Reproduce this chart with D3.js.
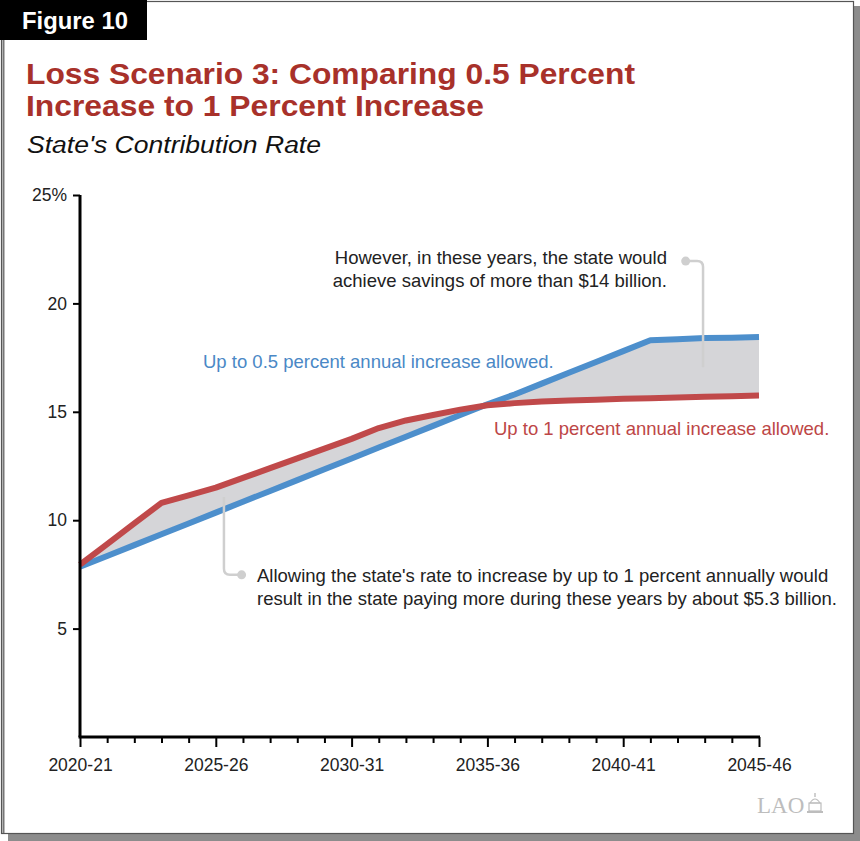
<!DOCTYPE html>
<html>
<head>
<meta charset="utf-8">
<script src="https://cdn.jsdelivr.net/npm/d3@7"></script>
<style>
  html, body { margin: 0; padding: 0; background: #fff; }
  svg { display: block; font-family: "Liberation Sans", Arial, Helvetica, sans-serif; }
</style>
</head>
<body>
<svg id="chart" width="860" height="841"></svg>
<script>
// ---- Data ----
const years = d3.range(2020, 2046); // 2020-21 ... 2045-46 (start year)
const halfPercent = [7.85, 8.35, 8.85, 9.35, 9.85, 10.35, 10.85, 11.35, 11.85, 12.35,
                     12.85, 13.35, 13.85, 14.35, 14.85, 15.35, 15.8, 16.3, 16.8, 17.3,
                     17.8, 18.3, 18.35, 18.4, 18.42, 18.45];
const onePercent = [7.95, 8.9, 9.85, 10.8, 11.15, 11.5, 11.95, 12.4, 12.85, 13.3,
                    13.75, 14.25, 14.6, 14.85, 15.1, 15.3, 15.4, 15.47, 15.52, 15.56,
                    15.6, 15.63, 15.66, 15.69, 15.72, 15.75];
const yTicks = [5, 10, 15, 20, 25];
const yTickLabels = ["5", "10", "15", "20", "25%"];
const xMajorTicks = [2020, 2025, 2030, 2035, 2040, 2045];
const xTickLabels = ["2020-21", "2025-26", "2030-31", "2035-36", "2040-41", "2045-46"];

const data = years.map((yr, i) => ({ yr, a: halfPercent[i], b: onePercent[i] }));

const svg = d3.select("#chart");
const W = 860, H = 841;

// ---- Frame ----
svg.append("rect").attr("x", 8).attr("y", 6).attr("width", W - 8).attr("height", H - 6).attr("fill", "#8c8c8c");
svg.append("rect").attr("x", 1.5).attr("y", 1.5).attr("width", 852).attr("height", 832)
  .attr("fill", "#fff").attr("stroke", "#555").attr("stroke-width", 1.2);
svg.append("line").attr("x1", 3.5).attr("x2", 3.5).attr("y1", 40).attr("y2", 833)
  .attr("stroke", "#777").attr("stroke-width", 2);

// Figure tag
svg.append("rect").attr("x", 0).attr("y", 0).attr("width", 147).attr("height", 40).attr("fill", "#000");
svg.append("text").attr("x", 22).attr("y", 29).attr("fill", "#fff")
  .attr("font-size", 23).attr("font-weight", "bold")
  .attr("textLength", 106).attr("lengthAdjust", "spacingAndGlyphs").text("Figure 10");

// Titles
const tAttrs = (sel) => sel.attr("fill", "#a8312a").attr("font-size", 29).attr("font-weight", "bold")
  .attr("lengthAdjust", "spacingAndGlyphs");
svg.append("text").call(tAttrs).attr("x", 26).attr("y", 84).attr("textLength", 609)
  .text("Loss Scenario 3: Comparing 0.5 Percent");
svg.append("text").call(tAttrs).attr("x", 26).attr("y", 116).attr("textLength", 458)
  .text("Increase to 1 Percent Increase");
svg.append("text").attr("x", 27).attr("y", 153).attr("font-size", 23).attr("font-style", "italic")
  .attr("fill", "#111").attr("textLength", 294).attr("lengthAdjust", "spacingAndGlyphs")
  .text("State's Contribution Rate");

// ---- Scales ----
const x = d3.scaleLinear().domain([2020, 2045]).range([80, 759]);
const y = d3.scaleLinear().domain([0, 25]).range([737, 195]);

// ---- Area between ----
const area = d3.area().x(d => x(d.yr)).y0(d => y(d.a)).y1(d => y(d.b));
svg.append("path").datum(data).attr("d", area).attr("fill", "#d5d5d8");

// ---- Lines ----
const lineA = d3.line().x(d => x(d.yr)).y(d => y(d.a));
const lineB = d3.line().x(d => x(d.yr)).y(d => y(d.b));
svg.append("path").datum(data).attr("d", lineA).attr("fill", "none")
  .attr("stroke", "#4d8fcc").attr("stroke-width", 6).attr("stroke-linejoin", "round");
svg.append("path").datum(data).attr("d", lineB).attr("fill", "none")
  .attr("stroke", "#c0494a").attr("stroke-width", 6).attr("stroke-linejoin", "round");

// ---- Axes ----
const yAxisG = svg.append("g").attr("transform", `translate(${x(2020)},0)`)
  .call(d3.axisLeft(y).tickValues(yTicks).tickSize(7).tickSizeOuter(0).tickPadding(6)
    .tickFormat((d, i) => yTickLabels[i]));
yAxisG.select(".domain").attr("stroke", "#000").attr("stroke-width", 3)
  .attr("d", `M0,${y(25)}V${y(0)}`);
yAxisG.selectAll(".tick line").attr("stroke", "#000").attr("stroke-width", 2);
yAxisG.selectAll(".tick text").attr("font-size", 17.5).attr("fill", "#222")
  .attr("font-family", "Liberation Sans, Arial, sans-serif");

const xMinor = svg.append("g").attr("transform", `translate(0,${y(0)})`)
  .call(d3.axisBottom(x).tickValues(years.filter(v => v % 5 !== 0)).tickSize(6).tickFormat(""));
xMinor.select(".domain").remove();
xMinor.selectAll(".tick line").attr("stroke", "#000").attr("stroke-width", 2);

const xAxisG = svg.append("g").attr("transform", `translate(0,${y(0)})`)
  .call(d3.axisBottom(x).tickValues(xMajorTicks).tickSize(10).tickSizeOuter(0).tickPadding(12)
    .tickFormat((d, i) => xTickLabels[i]));
xAxisG.select(".domain").attr("stroke", "#000").attr("stroke-width", 3)
  .attr("d", `M${x(2020) - 1.5},0H${x(2045) + 1}`);
xAxisG.selectAll(".tick line").attr("stroke", "#000").attr("stroke-width", 2);
xAxisG.selectAll(".tick text").attr("font-size", 17.5).attr("fill", "#222")
  .attr("font-family", "Liberation Sans, Arial, sans-serif");

// ---- Series labels ----
const FS = 18.5;
svg.append("text").attr("x", 203).attr("y", 368).attr("font-size", FS).attr("fill", "#4a88c6")
  .text("Up to 0.5 percent annual increase allowed.");
svg.append("text").attr("x", 494).attr("y", 435).attr("font-size", FS).attr("fill", "#bd4646")
  .text("Up to 1 percent annual increase allowed.");

// ---- Annotations ----
const connColor = "#cfcfcf";
// upper
const ux = x(2042.94), uy0 = y(21.95), uy1 = y(17.05);
svg.append("path").attr("d", `M${x(2042.3)},${uy0}H${ux - 6}Q${ux},${uy0} ${ux},${uy0 + 6}V${uy1}`)
  .attr("fill", "none").attr("stroke", connColor).attr("stroke-width", 2.5);
svg.append("circle").attr("cx", x(2042.3)).attr("cy", uy0).attr("r", 4.5).attr("fill", connColor);
const ut = svg.append("text").attr("font-size", FS).attr("fill", "#222").attr("text-anchor", "end");
ut.append("tspan").attr("x", 667).attr("y", 264).text("However, in these years, the state would");
ut.append("tspan").attr("x", 667).attr("y", 287).text("achieve savings of more than $14 billion.");

// lower
const lx = x(2025.3), ly0 = y(11.07), ly1 = y(7.48);
svg.append("path").attr("d", `M${lx},${ly0}V${ly1 - 6}Q${lx},${ly1} ${lx + 6},${ly1}H${x(2025.95)}`)
  .attr("fill", "none").attr("stroke", connColor).attr("stroke-width", 2.5);
svg.append("circle").attr("cx", x(2025.95)).attr("cy", ly1).attr("r", 4.5).attr("fill", connColor);
const lt = svg.append("text").attr("font-size", FS).attr("fill", "#222");
lt.append("tspan").attr("x", 257).attr("y", 582).text("Allowing the state's rate to increase by up to 1 percent annually would");
lt.append("tspan").attr("x", 257).attr("y", 605).text("result in the state paying more during these years by about $5.3 billion.");

// ---- LAO logo ----
const logo = svg.append("g").attr("fill", "#bdbdbd");
logo.append("text").attr("x", 757).attr("y", 813).attr("font-size", 23)
  .attr("font-family", "Liberation Serif, Times New Roman, serif").text("LAO");
const lg = logo.append("g").attr("transform", "translate(807,793)");
lg.append("rect").attr("x", 0).attr("y", 18).attr("width", 16).attr("height", 2);
lg.append("rect").attr("x", 2).attr("y", 10).attr("width", 12).attr("height", 8).attr("fill", "none")
  .attr("stroke", "#bdbdbd").attr("stroke-width", 1.2);
lg.append("path").attr("d", "M3,10 Q8,2 13,10 Z").attr("fill", "none").attr("stroke", "#bdbdbd").attr("stroke-width", 1.2);
lg.append("rect").attr("x", 7.3).attr("y", 0).attr("width", 1.4).attr("height", 4);
</script>
</body>
</html>
